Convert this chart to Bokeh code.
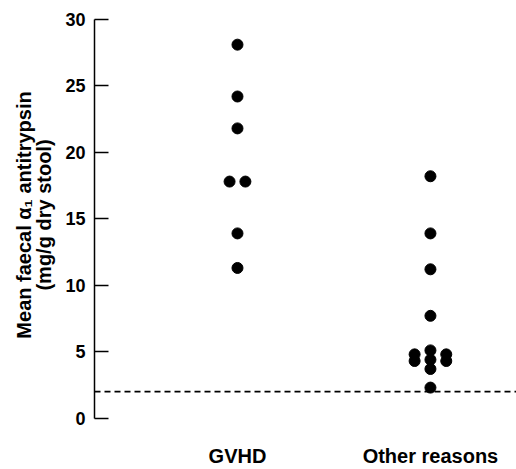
from bokeh.plotting import figure
from bokeh.models import Range1d, FixedTicker, Span
from bokeh.embed import file_html
from bokeh.resources import INLINE

# Data
categories = ["GVHD", "Other reasons"]
gvhd_values = [28.1, 24.2, 21.8, 17.8, 17.8, 13.9, 11.3]
gvhd_jitter = [0, 0, 0, -1, 1, 0, 0]
other_values = [18.2, 13.9, 11.2, 7.7, 5.1, 4.4, 3.7, 2.3, 4.8, 4.3, 4.8, 4.3]
other_jitter = [0, 0, 0, 0, 0, 0, 0, 0, -2, -2, 2, 2]
threshold = 2.0
y_ticks = [0, 5, 10, 15, 20, 25, 30]

JIT = 0.041
FONT = "Liberation Sans"

p = figure(width=516, height=469, output_backend="svg", toolbar_location=None,
           x_range=Range1d(0.259, 2.446), y_range=Range1d(-0.1, 30.67),
           min_border_left=94, min_border_right=0, min_border_top=10, min_border_bottom=48)
p.outline_line_color = None
p.xgrid.grid_line_color = None
p.ygrid.grid_line_color = None
p.background_fill_color = "white"
p.border_fill_color = "white"

gx = [1 + j * JIT for j in gvhd_jitter]
ox = [2 + j * JIT for j in other_jitter]
p.scatter(gx, gvhd_values, size=11, color="black")
p.scatter(ox, other_values, size=11, color="black")

p.add_layout(Span(location=threshold, dimension="width", line_color="black",
                  line_dash="6 4", line_width=1.6))

ya = p.yaxis[0]
ya.bounds = (0, 30)
ya.ticker = FixedTicker(ticks=y_ticks)
ya.major_tick_in = 14
ya.major_tick_out = 0
ya.minor_tick_line_color = None
ya.axis_line_color = "black"
ya.major_tick_line_color = "black"
ya.axis_line_width = 1.5
ya.major_tick_line_width = 1.5
ya.major_label_text_color = "black"
ya.major_label_text_font = FONT
ya.major_label_text_font_style = "bold"
ya.major_label_text_font_size = "18px"
ya.major_label_standoff = 9
ya.axis_label = "Mean faecal \u03b1\u2081 antitrypsin\n(mg/g dry stool)"
ya.axis_label_text_color = "black"
ya.axis_label_text_font = FONT
ya.axis_label_text_font_style = "bold"
ya.axis_label_text_font_size = "20px"
ya.axis_label_standoff = 7
ya.axis_label_text_line_height = 0.95

xa = p.xaxis[0]
xa.ticker = FixedTicker(ticks=[1, 2])
xa.major_label_overrides = {1: categories[0], 2: categories[1]}
xa.axis_line_color = None
xa.major_tick_line_color = None
xa.major_tick_in = 0
xa.major_tick_out = 0
xa.minor_tick_line_color = None
xa.major_label_text_color = "black"
xa.major_label_text_font = FONT
xa.major_label_text_font_style = "bold"
xa.major_label_text_font_size = "20px"
xa.major_label_standoff = 25

open("out.html", "w").write(file_html(p, INLINE))
